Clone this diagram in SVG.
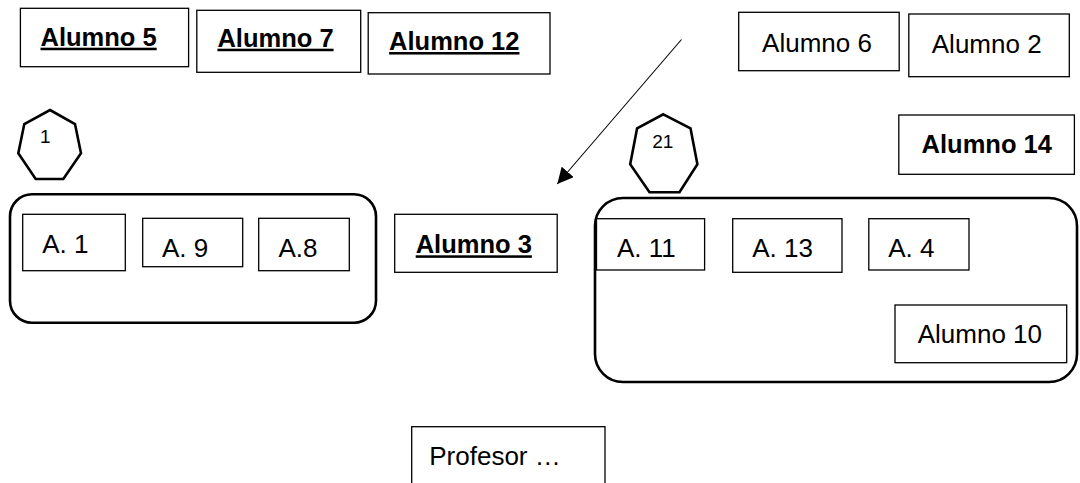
<svg xmlns="http://www.w3.org/2000/svg" width="1080" height="483" viewBox="0 0 1080 483">
  <defs>
    <marker id="arrowhead" viewBox="0 0 10 10" refX="10" refY="5" markerWidth="16" markerHeight="16" markerUnits="userSpaceOnUse" orient="auto">
      <path d="M0,0 L10,5 L0,10 Z" fill="#000"/>
    </marker>
    <style>
      .box { fill: #fff; stroke: #000; stroke-width: 1.3; }
      .group { fill: none; stroke: #000; stroke-width: 2.6; }
      .hept { fill: #fff; stroke: #000; stroke-width: 2.6; stroke-linejoin: miter; }
      .lbl { font-family: "Liberation Sans", Arial, sans-serif; font-size: 26px; fill: #000; text-anchor: middle; }
      .bold { font-weight: bold; font-size: 25.5px; text-decoration: underline; }
      .bold-plain { font-weight: bold; font-size: 25.5px; }
      .small { font-size: 19px; }
      .link { stroke: #000; stroke-width: 1.1; fill: none; }
    </style>
  </defs>
  <rect width="1080" height="483" fill="#fff"/>

  <!-- group containers -->
  <g id="group-left">
    <rect class="group" x="10" y="194.3" width="366" height="128.4" rx="22" ry="22"/>
  </g>
  <g id="group-right">
    <rect class="group" x="595" y="198" width="482" height="184" rx="28" ry="28"/>
  </g>

  <!-- heptagon markers -->
  <g id="mark-1">
    <polygon class="hept" points="50,110 75,124 81,153.3 63.3,179 35.7,179 18.3,153.3 24.3,124"/>
    <text class="lbl small" x="45.3" y="143.3">1</text>
  </g>
  <g id="mark-21">
    <polygon class="hept" points="663.3,114.3 690.5,128.3 697.4,164.3 679.5,192.3 649.5,192.3 630.2,164.3 637.1,128.3"/>
    <text class="lbl small" x="662.8" y="148.3">21</text>
  </g>

  <!-- top row -->
  <g id="alumno-5">
    <rect class="box" x="20.4" y="8.3" width="168.2" height="58.4"/>
    <text class="lbl bold" x="98.6" y="45.7">Alumno 5</text>
  </g>
  <g id="alumno-7">
    <rect class="box" x="196.8" y="10.3" width="163.9" height="62"/>
    <text class="lbl bold" x="275.5" y="46.7">Alumno 7</text>
  </g>
  <g id="alumno-12">
    <rect class="box" x="368.2" y="12.7" width="181.8" height="61.3"/>
    <text class="lbl bold" x="454.3" y="50">Alumno 12</text>
  </g>
  <g id="alumno-6">
    <rect class="box" x="738.7" y="12.3" width="160.5" height="58.4"/>
    <text class="lbl" x="817" y="52.3">Alumno 6</text>
  </g>
  <g id="alumno-2">
    <rect class="box" x="908.8" y="14" width="160.5" height="62.7"/>
    <text class="lbl" x="986.7" y="53.3">Alumno 2</text>
  </g>
  <g id="alumno-14">
    <rect class="box" x="898.8" y="115" width="175.6" height="59.3"/>
    <text class="lbl bold-plain" x="986.8" y="153.3">Alumno 14</text>
  </g>

  <!-- left group members -->
  <g id="a-1">
    <rect class="box" x="22.7" y="214.3" width="102.6" height="56.4"/>
    <text class="lbl" x="65.3" y="252.7">A. 1</text>
  </g>
  <g id="a-9">
    <rect class="box" x="142.7" y="218.3" width="100" height="48.4"/>
    <text class="lbl" x="185" y="257.3">A. 9</text>
  </g>
  <g id="a-8">
    <rect class="box" x="258.7" y="218.3" width="90.6" height="52.4"/>
    <text class="lbl" x="298" y="257.3">A.8</text>
  </g>

  <g id="alumno-3">
    <rect class="box" x="394.7" y="214.3" width="162.5" height="58"/>
    <text class="lbl bold" x="473.8" y="253.3">Alumno 3</text>
  </g>

  <!-- right group members -->
  <g id="a-11">
    <rect class="box" x="596.5" y="218.7" width="108.1" height="51.3"/>
    <text class="lbl" x="646.3" y="256.7">A. 11</text>
  </g>
  <g id="a-13">
    <rect class="box" x="732.7" y="218.7" width="109.3" height="53.6"/>
    <text class="lbl" x="782.5" y="256.7">A. 13</text>
  </g>
  <g id="a-4">
    <rect class="box" x="868.8" y="218.7" width="100.2" height="51.3"/>
    <text class="lbl" x="911.3" y="256.7">A. 4</text>
  </g>
  <g id="alumno-10">
    <rect class="box" x="895" y="305" width="171.7" height="57.7"/>
    <text class="lbl" x="979.9" y="342.7">Alumno 10</text>
  </g>

  <g id="profesor">
    <rect class="box" x="411.7" y="426.7" width="193.3" height="70"/>
    <text class="lbl" x="495" y="465">Profesor …</text>
  </g>

  <!-- connectors -->
  <g id="connectors">
    <line class="link" x1="681.5" y1="39.5" x2="557.3" y2="184" marker-end="url(#arrowhead)"/>
  </g>
</svg>
